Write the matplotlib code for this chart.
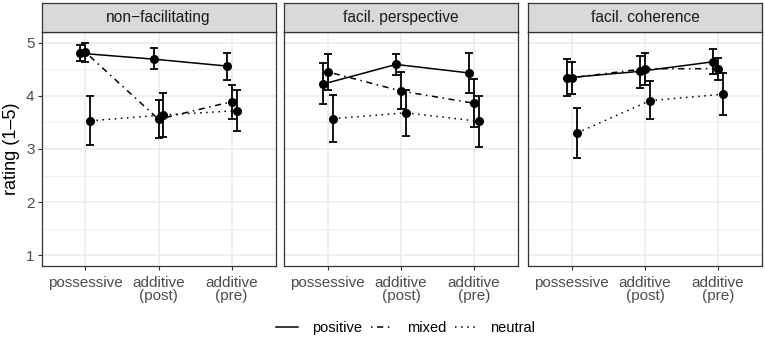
import numpy as np
import matplotlib
matplotlib.use('Agg')
import matplotlib.pyplot as plt
from matplotlib.lines import Line2D

plt.rcParams['font.family'] = ['Liberation Sans', 'DejaVu Sans']

# Data: facets, conditions, series
panels = ["non\u2212facilitating", "facil. perspective", "facil. coherence"]
categories = ["possessive", "additive\n(post)", "additive\n(pre)"]
series = ["positive", "mixed", "neutral"]

# means per panel per series (possessive, add-post, add-pre)
means = {
    "non\u2212facilitating": {
        "positive": [4.80, 4.69, 4.56],
        "mixed":    [4.82, 3.56, 3.89],
        "neutral":  [3.53, 3.64, 3.72],
    },
    "facil. perspective": {
        "positive": [4.22, 4.59, 4.43],
        "mixed":    [4.45, 4.09, 3.86],
        "neutral":  [3.57, 3.68, 3.52],
    },
    "facil. coherence": {
        "positive": [4.34, 4.46, 4.64],
        "mixed":    [4.34, 4.51, 4.51],
        "neutral":  [3.30, 3.91, 4.03],
    },
}
lower = {
    "non\u2212facilitating": {
        "positive": [4.65, 4.50, 4.30],
        "mixed":    [4.64, 3.20, 3.57],
        "neutral":  [3.07, 3.22, 3.33],
    },
    "facil. perspective": {
        "positive": [3.84, 4.40, 4.05],
        "mixed":    [4.11, 3.75, 3.41],
        "neutral":  [3.13, 3.25, 3.03],
    },
    "facil. coherence": {
        "positive": [4.00, 4.14, 4.41],
        "mixed":    [4.04, 4.20, 4.30],
        "neutral":  [2.83, 3.56, 3.63],
    },
}
upper = {
    "non\u2212facilitating": {
        "positive": [4.96, 4.89, 4.81],
        "mixed":    [5.00, 3.92, 4.21],
        "neutral":  [3.99, 4.06, 4.11],
    },
    "facil. perspective": {
        "positive": [4.61, 4.78, 4.80],
        "mixed":    [4.78, 4.44, 4.31],
        "neutral":  [4.02, 4.10, 4.00],
    },
    "facil. coherence": {
        "positive": [4.69, 4.75, 4.88],
        "mixed":    [4.64, 4.80, 4.72],
        "neutral":  [3.78, 4.28, 4.43],
    },
}

styles = {"positive": "-", "mixed": (0, (1, 3, 4, 3)), "neutral": (0, (1, 3))}
dodge = {"positive": -0.068, "mixed": 0.0, "neutral": 0.068}

fig = plt.figure(figsize=(7.65, 3.39), dpi=100)
W, H = 765.0, 339.0
lefts = [41.5, 284, 528]
pw = 234
top, bottom = 32, 266
strip_top = 3

x = np.arange(1, len(categories) + 1)
for i, p in enumerate(panels):
    ax = fig.add_axes([lefts[i] / W, 1 - bottom / H, pw / W, (bottom - top) / H])
    ax.set_xlim(0.4, 3.6)
    ax.set_ylim(0.8, 5.2)
    ax.set_yticks([1, 2, 3, 4, 5])
    ax.set_yticks([1.5, 2.5, 3.5, 4.5], minor=True)
    ax.set_xticks(x)
    ax.grid(True, which='major', color='#EBEBEB', lw=1.1)
    ax.grid(True, which='minor', axis='y', color='#EBEBEB', lw=0.55)
    ax.set_axisbelow(True)
    ax.tick_params(which='minor', length=0)
    ax.tick_params(which='major', length=3, color='#333333', width=0.8,
                   labelsize=11, labelcolor='#4D4D4D', pad=2)
    ax.tick_params(axis='x', pad=4)
    ax.set_xticklabels(categories, linespacing=0.9)
    if i > 0:
        ax.set_yticklabels([])
        ax.tick_params(axis='y', length=0)
    for s in ax.spines.values():
        s.set_color('#333333')
        s.set_linewidth(0.9)

    for s in series:
        xs = x + dodge[s]
        m = np.array(means[p][s])
        lo = m - np.array(lower[p][s])
        hi = np.array(upper[p][s]) - m
        ax.plot(xs, m, color='black', ls=styles[s], lw=1.1, zorder=3)
        ax.errorbar(xs, m, yerr=[lo, hi], fmt='o', color='black', ms=5.5,
                    elinewidth=1.3, capsize=2.6, capthick=1.3, zorder=4)

    # facet strip
    sax = fig.add_axes([lefts[i] / W, 1 - top / H, pw / W, (top - strip_top) / H])
    sax.set_facecolor('#D9D9D9')
    sax.set_xticks([])
    sax.set_yticks([])
    for s in sax.spines.values():
        s.set_color('#333333')
        s.set_linewidth(0.9)
    sax.text(0.5, 0.5, p, ha='center', va='center', fontsize=11.2,
             color='#1A1A1A', transform=sax.transAxes)

fig.text(12 / W, 1 - 149 / H, "rating (1\u20135)", rotation=90, ha='center',
         va='center', fontsize=13)

handles = [Line2D([0], [0], color='black', ls=styles[s], lw=1.1) for s in series]
fig.legend(handles, series, loc='center', bbox_to_anchor=(406 / W, 1 - 328 / H),
           ncol=3, frameon=False, fontsize=10.5, handlelength=1.5,
           columnspacing=0.6, handletextpad=0.95)

plt.savefig('out.png', dpi=100)
